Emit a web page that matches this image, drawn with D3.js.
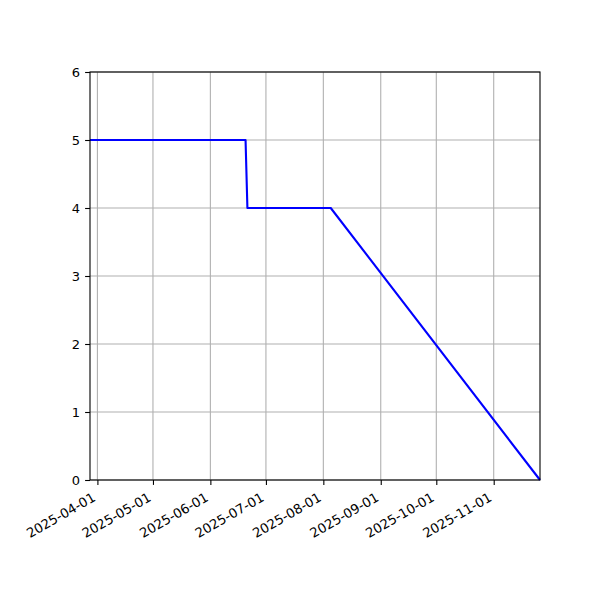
<!DOCTYPE html>
<html>
<head>
<meta charset="utf-8">
<script src="https://cdn.jsdelivr.net/npm/d3@7"></script>
<style>
  body { margin: 0; background: #fff; }
  svg text { font-family: "DejaVu Sans", sans-serif; font-size: 13px; fill: #000; }
</style>
</head>
<body>
<div id="chart"></div>
<script>
// data
const dates = ["2025-03-28", "2025-06-20", "2025-06-21", "2025-08-05", "2025-11-26"];
const values = [5, 5, 4, 4, 0];
const xTickLabels = ["2025-04-01", "2025-05-01", "2025-06-01", "2025-07-01", "2025-08-01", "2025-09-01", "2025-10-01", "2025-11-01"];
const yTicks = [0, 1, 2, 3, 4, 5, 6];

const parse = d3.utcParse("%Y-%m-%d");
const points = dates.map((d, i) => ({ date: parse(d), value: values[i] }));

const W = 600, H = 600;
const margin = { top: 72, right: 60, bottom: 120, left: 90 };
const width = W - margin.left - margin.right,
  height = H - margin.top - margin.bottom;

const svg = d3.select("#chart").append("svg").attr("width", W).attr("height", H);
const g = svg.append("g").attr("transform", "translate(" + margin.left + "," + margin.top + ")");

const x = d3.scaleUtc().domain(d3.extent(points, d => d.date)).range([0, width]);
const y = d3.scaleLinear().domain([0, 6]).range([height, 0]);

const xTicks = xTickLabels.map(parse);

// grid
g.append("g").selectAll("line").data(xTicks).enter().append("line")
  .attr("x1", d => x(d)).attr("x2", d => x(d)).attr("y1", 0).attr("y2", height)
  .attr("stroke", "#b0b0b0").attr("stroke-width", 1.1);
g.append("g").selectAll("line").data(yTicks).enter().append("line")
  .attr("x1", 0).attr("x2", width).attr("y1", d => y(d)).attr("y2", d => y(d))
  .attr("stroke", "#b0b0b0").attr("stroke-width", 1.1);

// line
const line = d3.line().x(d => x(d.date)).y(d => y(d.value));
g.append("path").datum(points).attr("d", line)
  .attr("fill", "none").attr("stroke", "#0000ff").attr("stroke-width", 2.1)
  .attr("stroke-linejoin", "round");

// axes
const xAxis = g.append("g").attr("transform", "translate(0," + height + ")")
  .call(d3.axisBottom(x).tickValues(xTicks).tickFormat(d3.utcFormat("%Y-%m-%d")).tickSize(4.9).tickPadding(0));
xAxis.select(".domain").remove();
xAxis.selectAll("line").attr("stroke", "#000").attr("stroke-width", 1.1);
xAxis.selectAll("text")
  .attr("y", 0).attr("dy", 0)
  .attr("text-anchor", "end")
  .attr("transform", "translate(-1.5,20) rotate(-30)")
  .style("font-size", "13.2px");

const yAxis = g.append("g")
  .call(d3.axisLeft(y).tickValues(yTicks).tickFormat(d3.format("d")).tickSize(4.9).tickPadding(5));
yAxis.select(".domain").remove();
yAxis.selectAll("line").attr("stroke", "#000").attr("stroke-width", 1.1);
yAxis.selectAll("text").style("font-size", "13px");

// frame
g.append("rect").attr("x", 0).attr("y", 0).attr("width", width).attr("height", height)
  .attr("fill", "none").attr("stroke", "#000").attr("stroke-width", 1.1);
</script>
</body>
</html>
